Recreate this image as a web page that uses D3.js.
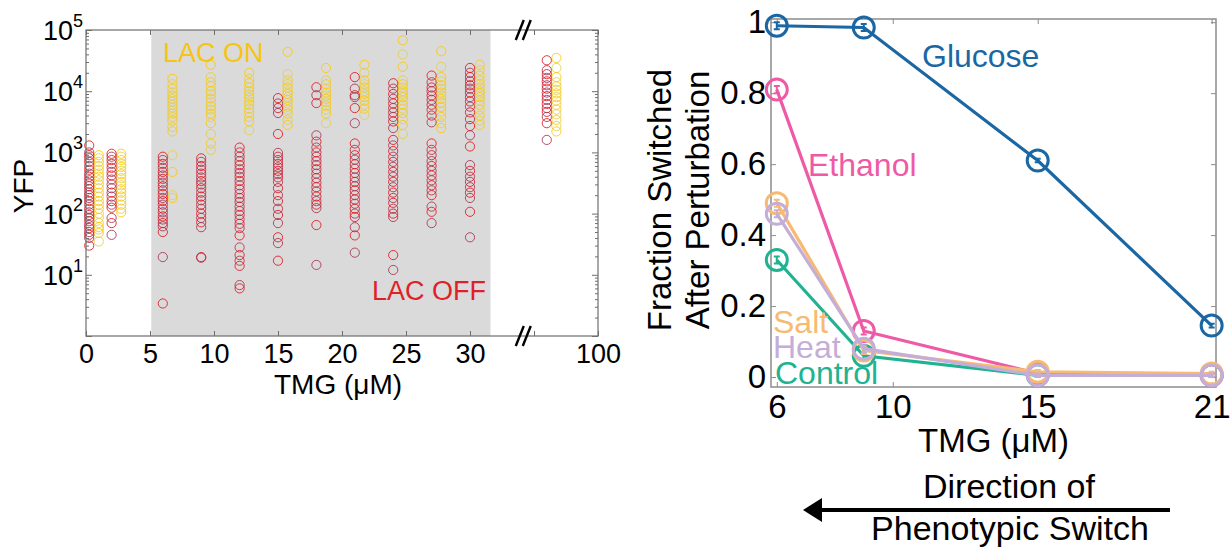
<!DOCTYPE html>
<html>
<head>
<meta charset="utf-8">
<script src="https://cdn.jsdelivr.net/npm/d3@7"></script>
<style>
  body { margin: 0; background: #fff; }
  text { font-family: "Liberation Sans", Arial, sans-serif; }
</style>
</head>
<body>
<div id="chart"></div>
<script>
// ---------- left panel: single-cell YFP vs TMG ----------
const tmgLevels = [0, 2, 6, 9, 12, 15, 18, 21, 24, 27, 30, 100]

// cells that started LAC OFF (red)
const fromOff = [
  [1300, 1000, 900, 800, 700, 600, 520, 450, 400, 350, 310, 280, 250, 220, 200, 180, 160, 140, 120, 105, 95, 85, 75, 65, 58, 50, 45, 40, 30],
  [950, 850, 750, 650, 560, 480, 420, 360, 300, 260, 220, 190, 160, 140, 125, 85, 70, 45],
  [850, 750, 650, 560, 480, 420, 370, 320, 280, 240, 210, 180, 160, 140, 120, 105, 90, 80, 70, 62, 50, 19.5, 3.4],
  [800, 700, 600, 520, 450, 390, 340, 300, 260, 220, 190, 165, 140, 120, 100, 85, 72, 60, 19.5, 19],
  [1200, 1000, 850, 720, 620, 530, 460, 400, 340, 290, 250, 210, 180, 155, 130, 110, 95, 80, 68, 58, 44, 28, 21, 17, 14, 6.8, 6],
  [7700, 6300, 5300, 4400, 2000, 980, 850, 750, 650, 570, 500, 440, 390, 330, 260, 200, 160, 120, 95, 70, 41, 33, 17],
  [11600, 8600, 6400, 1900, 1500, 1200, 1000, 850, 720, 620, 530, 450, 380, 320, 270, 230, 190, 160, 140, 123, 65, 14.5],
  [17000, 11000, 8600, 8000, 5300, 3000, 1400, 1100, 900, 760, 640, 540, 460, 390, 330, 280, 240, 200, 170, 145, 120, 100, 88, 60, 44, 23],
  [13500, 11000, 9000, 7500, 6300, 5300, 4500, 3800, 3200, 2500, 1600, 1300, 1050, 850, 700, 580, 480, 400, 330, 270, 220, 180, 150, 120, 100, 88, 21, 12],
  [18000, 14000, 11500, 10000, 8500, 7200, 6000, 5000, 4000, 3100, 1400, 1100, 900, 720, 600, 500, 420, 350, 290, 240, 200, 130, 107, 70],
  [24000, 20000, 17000, 14500, 12500, 11000, 9500, 8000, 6800, 5600, 4500, 3500, 2700, 1900, 1250, 620, 500, 400, 330, 270, 220, 180, 107, 41],
  [32000, 22000, 19000, 16500, 14500, 12500, 11000, 9500, 8300, 7200, 6200, 5300, 4600, 3800, 3000, 1600]
]

// cells that started LAC ON (yellow)
const fromOn = [
  [900, 800, 700, 600, 520, 450, 400, 350, 300, 260, 220, 190, 160, 140, 120, 100, 85, 70, 60, 55, 48, 35],
  [950, 850, 750, 650, 580, 500, 440, 380, 330, 290, 250, 220, 190, 165, 140, 120, 105],
  [16000, 13000, 11000, 9500, 8500, 7500, 6800, 6000, 5400, 4800, 4300, 3800, 3300, 2600, 2200, 900, 480, 200, 180],
  [27000, 17000, 14000, 12000, 10000, 8800, 7600, 6600, 5700, 5000, 4300, 3800, 3000, 2000, 1400, 1100],
  [20000, 16000, 13500, 11500, 10000, 8800, 7800, 6800, 6000, 5200, 4500, 3800, 3200, 2300],
  [44000, 19000, 15000, 13000, 11500, 10000, 9000, 8000, 7200, 6400, 5600, 5000, 4300, 3400, 2800],
  [24000, 15000, 13000, 11000, 9500, 8500, 7500, 6600, 5800, 5000, 4300, 3000],
  [27000, 20000, 15000, 13000, 11500, 10000, 9000, 8000, 7000, 6000, 5200, 4100],
  [68000, 40000, 25000, 15000, 13000, 11500, 10000, 9000, 8000, 7000, 6000, 5200, 4400, 3500, 2800, 2000],
  [45000, 25000, 17000, 14500, 12500, 11000, 9500, 8500, 7500, 6500, 5500, 4600, 3800, 3000, 2500],
  [27000, 22000, 18000, 15000, 13000, 11500, 10000, 9000, 8000, 7000, 6000, 5000, 4000, 3300, 2800],
  [35000, 24000, 17000, 14000, 12000, 10500, 9200, 8000, 7000, 6000, 5000, 4200, 3400, 2700, 2200]
]

const yfpDecades = [1, 2, 3, 4, 5]
const tmgTickValues = [0, 5, 10, 15, 20, 25, 30, 35, 40]
const tmgTickLabels = ['0', '5', '10', '15', '20', '25', '30', '', '100']
const lacOnRange = [5.1, 31.6]

// ---------- right panel: fraction switched after perturbation ----------
const tmgSwitch = [6, 9, 15, 21]
const series = ['Control', 'Glucose', 'Ethanol', 'Salt', 'Heat']
const control = [0.33, 0.06, 0.005, 0.005]
const glucose = [0.99, 0.985, 0.61, 0.145]
const ethanol = [0.81, 0.13, 0.01, 0.005]
const salt = [0.49, 0.075, 0.015, 0.01]
const heat = [0.46, 0.08, 0.005, 0.005]
const errors = [0.01, 0.01, 0.005, 0.005]
const fracTicks = [0, 0.2, 0.4, 0.6, 0.8, 1]
const tmgSwitchTicks = [6, 10, 15, 21]

function drawChart() {
  const width = 1230, height = 548
  const svg = d3.select('#chart').append('svg')
    .attr('width', width)
    .attr('height', height)

  // ===== LEFT PANEL =====
  const L = { left: 86, right: 598, top: 30, bottom: 336 }

  // broken axis: 100 uM is drawn just past the break, tick label at the edge
  const axisPos = c => c === 100 ? 36 : (c === 0 ? 0.25 : c)

  const xL = d3.scaleLinear().domain([0, 40]).range([L.left, L.right])
  const yL = d3.scaleLog().domain([1, 1e5]).range([L.bottom, L.top])

  svg.append('rect')
    .attr('x', xL(lacOnRange[0]))
    .attr('y', L.top)
    .attr('width', xL(lacOnRange[1]) - xL(lacOnRange[0]))
    .attr('height', L.bottom - L.top)
    .attr('fill', '#dadada')

  const offColors = ['#e5141c', '#a83352']
  const onColors = ['#ffc800', '#e3cf45']

  const pts = []
  tmgLevels.forEach((c, i) => {
    fromOn[i].forEach((v, j) => pts.push({ x: axisPos(c) + 0.75, v, col: onColors[j % 2] }))
    fromOff[i].forEach((v, j) => pts.push({ x: axisPos(c), v, col: offColors[j % 2] }))
  })

  svg.append('g').selectAll('circle')
    .data(pts)
    .join('circle')
      .attr('cx', d => xL(d.x))
      .attr('cy', d => yL(d.v))
      .attr('r', 4.6)
      .attr('fill', 'none')
      .attr('stroke', d => d.col)
      .attr('stroke-width', 1)
      .attr('opacity', 0.85)

  // axes (ticks point inward, like matlab)
  const axisColor = '#6e6e6e'
  const minor = []
  for (let e = 0; e < 5; e++) for (let m = 2; m <= 9; m++) minor.push(m * Math.pow(10, e))
  const major = [1, ...yfpDecades.map(k => Math.pow(10, k))]

  const styleAxis = g => {
    g.select('.domain').remove()
    g.selectAll('line').attr('stroke', axisColor)
  }

  svg.append('g').attr('transform', `translate(${L.left},0)`)
    .call(d3.axisLeft(yL).tickValues(major).tickSize(-6).tickFormat(''))
    .call(styleAxis)
  svg.append('g').attr('transform', `translate(${L.left},0)`)
    .call(d3.axisLeft(yL).tickValues(minor).tickSize(-3).tickFormat(''))
    .call(styleAxis)
  svg.append('g').attr('transform', `translate(${L.right},0)`)
    .call(d3.axisRight(yL).tickValues(major).tickSize(-6).tickFormat(''))
    .call(styleAxis)
  svg.append('g').attr('transform', `translate(${L.right},0)`)
    .call(d3.axisRight(yL).tickValues(minor).tickSize(-3).tickFormat(''))
    .call(styleAxis)

  svg.append('g').attr('transform', `translate(0,${L.bottom})`)
    .call(d3.axisBottom(xL).tickValues(tmgTickValues).tickSize(-5).tickPadding(8)
      .tickFormat((d, i) => tmgTickLabels[i]))
    .call(styleAxis)
    .call(g => g.selectAll('text')
      .attr('font-size', 27).attr('fill', '#000')
      .attr('font-family', '"Liberation Sans", Arial, sans-serif'))
  svg.append('g').attr('transform', `translate(0,${L.top})`)
    .call(d3.axisTop(xL).tickValues(tmgTickValues).tickSize(-5).tickFormat(''))
    .call(styleAxis)

  svg.append('rect')
    .attr('x', L.left).attr('y', L.top)
    .attr('width', L.right - L.left).attr('height', L.bottom - L.top)
    .attr('fill', 'none').attr('stroke', axisColor).attr('stroke-width', 1.2)

  // y tick labels 10^k
  const yLab = svg.append('g').selectAll('text')
    .data(yfpDecades)
    .join('text')
      .attr('x', L.left - 3)
      .attr('y', d => yL(Math.pow(10, d)) + 10)
      .attr('text-anchor', 'end')
      .attr('font-size', 27)
  yLab.append('tspan').text('10')
  yLab.append('tspan').attr('dy', -13).attr('font-size', 18).text(d => d)

  // break marks
  const xb = xL(34.2)
  ;[L.top, L.bottom].forEach(yb => {
    ;[-4, 3].forEach(dx => {
      svg.append('line')
        .attr('x1', xb + dx - 4).attr('y1', yb + 10)
        .attr('x2', xb + dx + 4).attr('y2', yb - 10)
        .attr('stroke', '#000').attr('stroke-width', 2.4)
    })
  })

  svg.append('text')
    .attr('x', 163).attr('y', 62)
    .attr('font-size', 27).attr('fill', '#f6c412')
    .text('LAC ON')
  svg.append('text')
    .attr('x', 372).attr('y', 300)
    .attr('font-size', 27).attr('fill', '#e01f28')
    .text('LAC OFF')

  svg.append('text')
    .attr('transform', 'translate(33,186) rotate(-90)')
    .attr('text-anchor', 'middle')
    .attr('font-size', 28)
    .text('YFP')
  svg.append('text')
    .attr('x', 338).attr('y', 394)
    .attr('text-anchor', 'middle')
    .attr('font-size', 28)
    .text('TMG (μM)')

  // ===== RIGHT PANEL =====
  const R = { left: 771, right: 1216, top: 19, bottom: 387 }
  const xR = d3.scaleLinear().domain([5.8, 21.15]).range([R.left, R.right])
  const yR = d3.scaleLinear().domain([-0.028, 1.009]).range([R.bottom, R.top])
  const rColor = '#8c8c8c'

  const styleR = g => {
    g.select('.domain').remove()
    g.selectAll('line').attr('stroke', rColor)
  }

  svg.append('g').attr('transform', `translate(0,${R.bottom})`)
    .call(d3.axisBottom(xR).tickValues(tmgSwitchTicks).tickSize(-5).tickPadding(8))
    .call(styleR)
    .call(g => g.selectAll('text')
      .attr('font-size', 33).attr('fill', '#000')
      .attr('font-family', '"Liberation Sans", Arial, sans-serif'))
  svg.append('g').attr('transform', `translate(0,${R.top})`)
    .call(d3.axisTop(xR).tickValues(tmgSwitchTicks).tickSize(-5).tickFormat(''))
    .call(styleR)
  svg.append('g').attr('transform', `translate(${R.left},0)`)
    .call(d3.axisLeft(yR).tickValues(fracTicks).tickSize(-5).tickPadding(5)
      .tickFormat(d => d3.format('~g')(d)))
    .call(styleR)
    .call(g => g.selectAll('text')
      .attr('font-size', 33).attr('fill', '#000')
      .attr('font-family', '"Liberation Sans", Arial, sans-serif'))
  svg.append('g').attr('transform', `translate(${R.right},0)`)
    .call(d3.axisRight(yR).tickValues(fracTicks).tickSize(-5).tickFormat(''))
    .call(styleR)

  svg.append('rect')
    .attr('x', R.left).attr('y', R.top)
    .attr('width', R.right - R.left).attr('height', R.bottom - R.top)
    .attr('fill', 'none').attr('stroke', rColor).attr('stroke-width', 1.5)

  const seriesValues = { Control: control, Glucose: glucose, Ethanol: ethanol, Salt: salt, Heat: heat }
  const seriesColors = { Control: '#21b391', Glucose: '#1a67a4', Ethanol: '#ee5aa6', Salt: '#f7ba72', Heat: '#c4aed8' }

  const line = d3.line()
    .x((d, i) => xR(tmgSwitch[i]))
    .y(d => yR(d))

  series.forEach(name => {
    const vals = seriesValues[name]
    const col = seriesColors[name]
    const g = svg.append('g')
    g.append('path')
      .attr('d', line(vals))
      .attr('fill', 'none')
      .attr('stroke', col)
      .attr('stroke-width', 3.2)
    // small error bars
    g.selectAll('.err')
      .data(vals)
      .join('path')
        .attr('d', (d, i) => {
          const x = xR(tmgSwitch[i]), y0 = yR(d - errors[i]), y1 = yR(d + errors[i])
          return `M${x},${y0}V${y1}M${x - 3},${y0}H${x + 3}M${x - 3},${y1}H${x + 3}`
        })
        .attr('fill', 'none')
        .attr('stroke', col)
        .attr('stroke-width', 2)
    g.selectAll('circle')
      .data(vals)
      .join('circle')
        .attr('cx', (d, i) => xR(tmgSwitch[i]))
        .attr('cy', d => yR(d))
        .attr('r', 10.5)
        .attr('fill', 'none')
        .attr('stroke', col)
        .attr('stroke-width', 3)
  })

  const labels = [
    { name: 'Glucose', x: 922, y: 67 },
    { name: 'Ethanol', x: 808, y: 176 },
    { name: 'Salt', x: 773, y: 333 },
    { name: 'Heat', x: 773, y: 358 },
    { name: 'Control', x: 775, y: 384 }
  ]
  svg.append('g').selectAll('text')
    .data(labels)
    .join('text')
      .attr('x', d => d.x).attr('y', d => d.y)
      .attr('font-size', 32)
      .attr('fill', d => seriesColors[d.name])
      .text(d => d.name)

  svg.append('text')
    .attr('transform', 'translate(671,200) rotate(-90)')
    .attr('text-anchor', 'middle')
    .attr('font-size', 33)
    .text('Fraction Switched')
  svg.append('text')
    .attr('transform', 'translate(709,200) rotate(-90)')
    .attr('text-anchor', 'middle')
    .attr('font-size', 33)
    .text('After Perturbation')

  svg.append('text')
    .attr('x', (R.left + R.right) / 2).attr('y', 452)
    .attr('text-anchor', 'middle')
    .attr('font-size', 33)
    .text('TMG (μM)')

  svg.append('text')
    .attr('x', 1009).attr('y', 498)
    .attr('text-anchor', 'middle')
    .attr('font-size', 34)
    .text('Direction of')
  svg.append('text')
    .attr('x', 1010).attr('y', 540)
    .attr('text-anchor', 'middle')
    .attr('font-size', 34)
    .text('Phenotypic Switch')

  svg.append('line')
    .attr('x1', 1170).attr('y1', 510)
    .attr('x2', 815).attr('y2', 510)
    .attr('stroke', '#000').attr('stroke-width', 4)
  svg.append('path')
    .attr('d', 'M803,510L822,498L822,522Z')
    .attr('fill', '#000')
}

drawChart()
</script>
</body>
</html>
